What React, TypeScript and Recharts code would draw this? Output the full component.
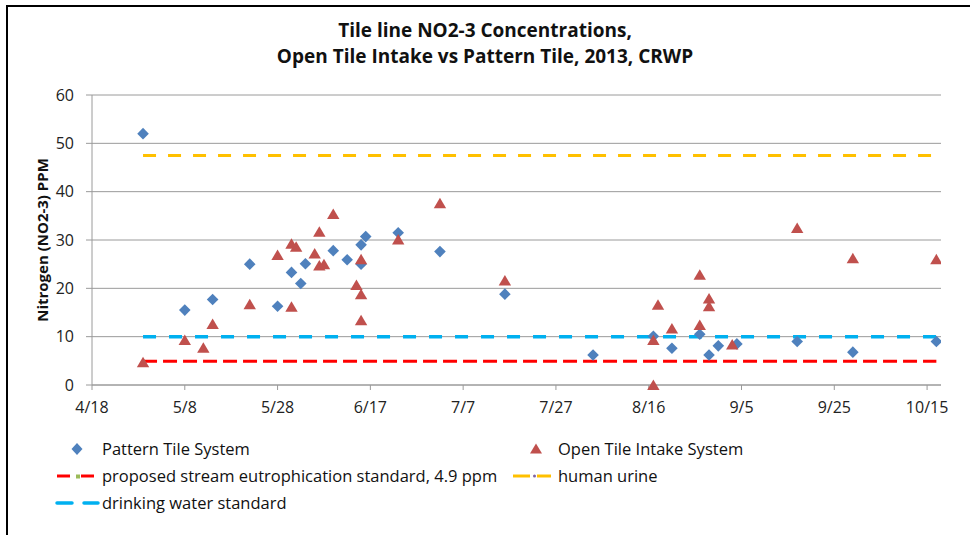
import React from "react";
import {
  ScatterChart,
  Scatter,
  XAxis,
  YAxis,
  CartesianGrid,
  ReferenceLine,
} from "recharts";

// sample dates (M/D, 2013) and NO2-3 values
const patternDates = [
  "4/29", "5/8", "5/14", "5/22", "5/28", "5/31", "6/2", "6/3", "6/9", "6/12",
  "6/15", "6/16", "6/15", "6/23", "7/2", "7/16", "8/4", "8/17", "8/21", "8/27",
  "8/29", "8/31", "9/4", "9/17", "9/29", "10/17",
];
const patternValues = [
  52, 15.5, 17.7, 25, 16.3, 23.3, 21, 25.1, 27.8, 25.9,
  29, 30.7, 25, 31.5, 27.6, 18.8, 6.2, 10.1, 7.6, 10.5,
  6.2, 8.1, 8.5, 9.0, 6.8, 9.0,
];

const openDates = [
  "4/29", "5/8", "5/12", "5/14", "5/22", "5/28", "5/31", "5/31", "6/1", "6/5",
  "6/6", "6/6", "6/7", "6/9", "6/14", "6/15", "6/15", "6/15", "6/23", "7/2",
  "7/16", "8/17", "8/17", "8/18", "8/21", "8/27", "8/27", "8/29", "8/29", "9/3",
  "9/17", "9/29", "10/17",
];
const openValues = [
  4.7, 9.3, 7.7, 12.6, 16.7, 26.9, 16.2, 29.2, 28.6, 27.2,
  31.7, 24.7, 25, 35.4, 20.7, 18.8, 26, 13.4, 30.1, 37.6,
  21.6, 0, 9.3, 16.6, 11.7, 22.8, 12.4, 17.9, 16.3, 8.4,
  32.5, 26.2, 26,
];

// standards drawn from first to last sample date
const standardStart = "4/29";
const standardEnd = "10/17";
const eutrophicationStd = 4.9;
const drinkingWaterStd = 10;
const humanUrine = 47.5;

const tickDates = ["4/18", "5/8", "5/28", "6/17", "7/7", "7/27", "8/16", "9/5", "9/25", "10/15"];
const yTicks = [0, 10, 20, 30, 40, 50, 60];

const FONT = "'Open Sans', Lato, sans-serif";
const BLUE = "#4F81BD";
const RED = "#C0504D";

const base = Date.UTC(2013, 3, 18);
function dayOf(md: string) {
  const [m, d] = md.split("/").map(Number);
  return Math.round((Date.UTC(2013, m - 1, d) - base) / 86400000);
}
function labelOf(day: number) {
  const dt = new Date(base + day * 86400000);
  return `${dt.getUTCMonth() + 1}/${dt.getUTCDate()}`;
}

const patternData = patternDates.map((d, i) => ({ x: dayOf(d), y: patternValues[i] }));
const openData = openDates.map((d, i) => ({ x: dayOf(d), y: openValues[i] }));
const xTicks = tickDates.map(dayOf);
const x0 = dayOf(standardStart);
const x1 = dayOf(standardEnd);

const Diamond = (p: any) => {
  const { cx, cy } = p;
  const r = 5.8;
  return <path d={`M${cx},${cy - r}L${cx + r},${cy}L${cx},${cy + r}L${cx - r},${cy}Z`} fill={BLUE} />;
};

const Triangle = (p: any) => {
  const { cx, cy } = p;
  return <path d={`M${cx},${cy - 5.5}L${cx + 6.2},${cy + 5}L${cx - 6.2},${cy + 5}Z`} fill={RED} />;
};

function LegendBlock() {
  const text: React.CSSProperties = { position: "absolute", fontSize: 16.5, color: "#111", lineHeight: "27px", whiteSpace: "nowrap" };
  return (
    <div style={{ position: "absolute", left: 0, top: 435, width: 970, height: 90, fontFamily: FONT }}>
      <svg width={970} height={90} style={{ position: "absolute", left: 0, top: 0 }}>
        <path d="M77,8L82.5,14L77,20L71.5,14Z" fill={BLUE} />
        <path d="M536,8.5L542,18.5L530,18.5Z" fill={RED} />
        <line x1={57} x2={70} y1={41} y2={41} stroke="#FF0000" strokeWidth={3} />
        <rect x={76} y={39.5} width={4} height={4} fill="#9BBB59" />
        <line x1={81} x2={94} y1={41} y2={41} stroke="#FF0000" strokeWidth={3} />
        <line x1={513} x2={530} y1={41} y2={41} stroke="#FFC000" strokeWidth={3} />
        <circle cx={534.5} cy={41} r={1.5} fill="#8064A2" />
        <line x1={537} x2={551} y1={41} y2={41} stroke="#FFC000" strokeWidth={3} />
        <line x1={57} x2={72} y1={68} y2={68} stroke="#00B0F0" strokeWidth={3.5} strokeLinecap="round" />
        <line x1={84} x2={98} y1={68} y2={68} stroke="#00B0F0" strokeWidth={3.5} strokeLinecap="round" />
      </svg>
      <div style={{ ...text, left: 102, top: 0 }}>Pattern Tile System</div>
      <div style={{ ...text, left: 558, top: 0 }}>Open Tile Intake System</div>
      <div style={{ ...text, left: 102, top: 27 }}>proposed stream eutrophication standard, 4.9 ppm</div>
      <div style={{ ...text, left: 558, top: 27 }}>human urine</div>
      <div style={{ ...text, left: 102, top: 54 }}>drinking water standard</div>
    </div>
  );
}

export default function App() {
  return (
    <div
      style={{
        position: "absolute",
        left: 0,
        top: 0,
        width: 970,
        height: 535,
        background: "#fff",
        fontFamily: FONT,
        overflow: "hidden",
      }}
    >
      <div style={{ position: "absolute", left: 6, top: 5, width: 964, height: 2, background: "#000" }} />
      <div style={{ position: "absolute", left: 6, top: 5, width: 2, height: 530, background: "#000" }} />
      <div
        style={{
          position: "absolute",
          left: 0,
          top: 17,
          width: 970,
          textAlign: "center",
          fontWeight: 700,
          fontSize: 19,
          lineHeight: "26px",
          color: "#111",
        }}
      >
        Tile line NO2-3 Concentrations,
        <br />
        Open Tile Intake vs Pattern Tile, 2013, CRWP
      </div>
      <div style={{ position: "absolute", left: 0, top: 0 }}>
        <ScatterChart width={970} height={535} margin={{ top: 95, right: 29, bottom: 120, left: 0 }}>
          <CartesianGrid vertical={false} stroke="#9a9a9a" strokeWidth={1} />
          <XAxis
            type="number"
            dataKey="x"
            domain={[0, 183]}
            ticks={xTicks}
            tickFormatter={labelOf}
            allowDataOverflow
            stroke="#9a9a9a"
            tickSize={5}
            tickMargin={12}
            height={30}
            tick={{ fontSize: 16, fill: "#222", fontFamily: FONT }}
          />
          <YAxis
            type="number"
            dataKey="y"
            domain={[0, 60]}
            ticks={yTicks}
            width={92}
            stroke="#9a9a9a"
            tickSize={6}
            tickMargin={12}
            tick={{ fontSize: 16, fill: "#222", fontFamily: FONT }}
            label={(props: any) => {
              const vb = props.viewBox || { y: 95, height: 290 };
              const cy = vb.y + vb.height / 2;
              return (
                <text
                  x={42}
                  y={cy}
                  transform={`rotate(-90 42 ${cy})`}
                  textAnchor="middle"
                  dominantBaseline="central"
                  fontSize={15}
                  fontWeight={700}
                  fill="#111"
                  fontFamily={FONT}
                >
                  Nitrogen (NO2-3) PPM
                </text>
              );
            }}
          />
          <ReferenceLine
            segment={[{ x: x0, y: eutrophicationStd }, { x: x1, y: eutrophicationStd }]}
            stroke="#FF0000"
            strokeWidth={3}
            strokeDasharray="14 6"
          />
          <ReferenceLine
            segment={[{ x: x0, y: drinkingWaterStd }, { x: x1, y: drinkingWaterStd }]}
            stroke="#00B0F0"
            strokeWidth={3.5}
            strokeDasharray="13 13"
          />
          <ReferenceLine
            segment={[{ x: x0, y: humanUrine }, { x: x1, y: humanUrine }]}
            stroke="#FFC000"
            strokeWidth={3}
            strokeDasharray="13 12"
          />
          <Scatter name="Pattern Tile System" data={patternData} shape={Diamond} isAnimationActive={false} />
          <Scatter name="Open Tile Intake System" data={openData} shape={Triangle} isAnimationActive={false} />
        </ScatterChart>
      </div>
      <LegendBlock />
    </div>
  );
}
